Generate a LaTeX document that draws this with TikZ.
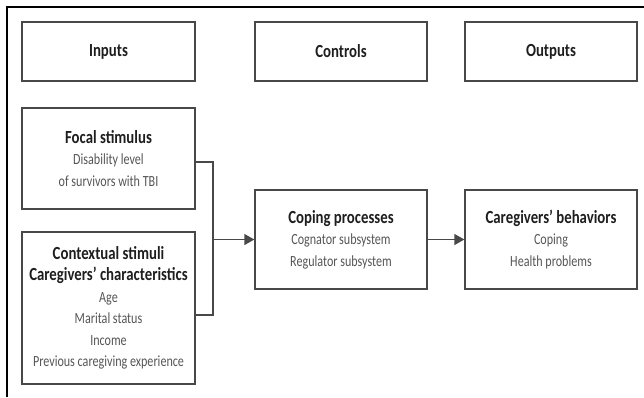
\documentclass[tikz,border=0pt]{standalone}
\usepackage{fontspec}
\setmainfont[FakeStretch=0.8]{Carlito}
\newfontfamily\bodyfont[FakeStretch=0.78]{Carlito}
\usetikzlibrary{arrows.meta}
\definecolor{boxline}{HTML}{484848}
\definecolor{bodytext}{HTML}{555555}
\definecolor{headtext}{HTML}{1E1E1E}
\newcommand{\hd}[1]{{\rmfamily\bfseries\color{headtext}\fontsize{18.5}{21.5}\selectfont #1}}
\begin{document}
\begin{tikzpicture}[x=1pt,y=-1pt,
  box/.style={draw=boxline, line width=1.4pt, align=center, inner sep=0pt,
    text=bodytext, font=\bodyfont\fontsize{15.5}{21.5}\selectfont},
  conn/.style={draw=boxline, line width=1.4pt}]
\useasboundingbox (0,0) rectangle (644,397);
\draw[line width=1.3pt] (7,397)--(7,7)--(644,7);
% top row
\node[box, minimum width=173pt, minimum height=59pt] (inputs) at (108.5,51.5) {\hd{Inputs}};
\node[box, minimum width=172pt, minimum height=59pt] (controls) at (341,51.5) {\hd{Controls}};
\node[box, minimum width=172pt, minimum height=59pt] (outputs) at (551,51.5) {\hd{Outputs}};
% stimuli
\node[box, minimum width=173pt, minimum height=101pt] (focal) at (108.5,158.5)
  {\hd{Focal stimulus}\\Disability level\\of survivors with TBI};
\node[box, minimum width=173pt, minimum height=152pt] (context) at (108.5,308)
  {\hd{Contextual stimuli}\\\hd{Caregivers’ characteristics}\\Age\\Marital status\\Income\\Previous caregiving experience};
% processes and behaviors
\node[box, minimum width=172pt, minimum height=99pt] (coping) at (341,239.5)
  {\hd{Coping processes}\\Cognator subsystem\\Regulator subsystem};
\node[box, minimum width=172pt, minimum height=99pt] (behav) at (551,239.5)
  {\hd{Caregivers’ behaviors}\\Coping\\Health problems};
\coordinate (jn) at (213,239.5);
\draw[conn] ([yshift=-3.5pt]focal.east) -| (jn);
\draw[conn] ([yshift=-7pt]context.east) -| (jn);
\draw[conn,-{Triangle[length=10pt,width=11pt]}] (jn) -- (coping.west);
\draw[conn,-{Triangle[length=10pt,width=11pt]}] (coping.east) -- (behav.west);
\end{tikzpicture}
\end{document}
